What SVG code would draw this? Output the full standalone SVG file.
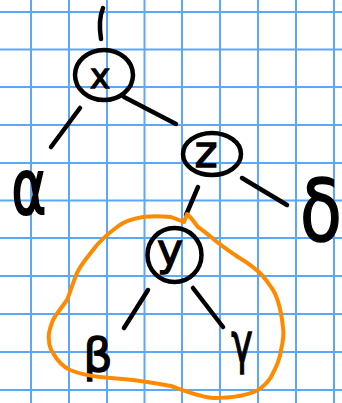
<svg xmlns="http://www.w3.org/2000/svg" width="342" height="403" viewBox="0 0 342 403">
<style>
.grid{stroke:#5aa8f7;stroke-width:2;fill:none}
.ink{stroke:#000;stroke-width:4.5;fill:none;stroke-linecap:round;stroke-linejoin:round}
.lbl{font-family:"DejaVu Sans",sans-serif;fill:#000;stroke:#000;stroke-width:1.3;text-anchor:middle}
.blob{stroke:#ff8a00;stroke-width:4;fill:none;stroke-linejoin:round;stroke-linecap:round}
</style>
<rect width="342" height="403" fill="#fff"/>
<g id="grid" class="grid">
<path d="M31,0V403M69,0V403M107,0V403M144.5,0V403M182,0V403M220,0V403M258,0V403M296,0V403M334,0V403"/>
<path d="M0,12H342M0,49.5H342M0,87H342M0,125H342M0,163H342M0,200.5H342M0,238H342M0,276H342M0,314H342M0,352H342M0,390H342"/>
</g>
<g id="connectors" class="ink">
<path d="M103,8 Q98,20 101,39"/>
<path d="M80,108 L51,147"/>
<path d="M124,97 L176,124"/>
<path d="M242,178 L287,205"/>
<path d="M198,187 L186,215"/>
<path d="M148,290 L124,328"/>
<path d="M193,288 L223,327"/>
</g>
<g id="node-x">
<ellipse class="ink" cx="104" cy="75" rx="29" ry="25"/>
<text class="lbl" x="100" y="88" font-size="34">x</text>
</g>
<g id="node-z">
<ellipse class="ink" cx="212" cy="154" rx="29" ry="21"/>
<text class="lbl" x="206" y="167" font-size="44">z</text>
</g>
<g id="node-y">
<ellipse class="ink" cx="174.5" cy="255" rx="27" ry="27"/>
<text class="lbl" x="170" y="265" font-size="44">y</text>
</g>
<g id="leaf-alpha"><text class="lbl" transform="translate(29,214) scale(1.1,1.6)" font-size="48">α</text></g>
<g id="leaf-delta"><text class="lbl" transform="translate(321,241) scale(0.95,1.2)" font-size="72">δ</text></g>
<g id="leaf-beta"><text class="lbl" x="98" y="371" font-size="46">β</text></g>
<g id="leaf-gamma"><text class="lbl" transform="translate(242,362) scale(0.65,1)" font-size="56">γ</text></g>
<g id="subtree-outline">
<path class="blob" d="M187,214 L184,222 L171,217 C160,216 150,216 143,217 C130,219 122,223 117,227 C105,236 98,243 93,250 C85,260 80,266 77,273 C72,285 70,293 67,300 C60,310 56,314 53,320 C49,330 48,336 49,340 C49,347 51,350 53,353 C58,362 64,367 70,370 C80,374 90,376 100,377 C112,378 122,379 133,380 C148,382 160,384 171,386 C188,392 200,397 214,398 C232,398 248,395 258,390 C264,386 268,382 271,377 C276,368 280,360 281,350 C283,342 284,334 283,327 C281,310 278,296 271,287 C265,278 260,272 254,268 C248,263 243,260 238,257 C226,249 218,243 211,237 C205,232 201,229 198,227 L191,218 Z"/>
</g>
</svg>
